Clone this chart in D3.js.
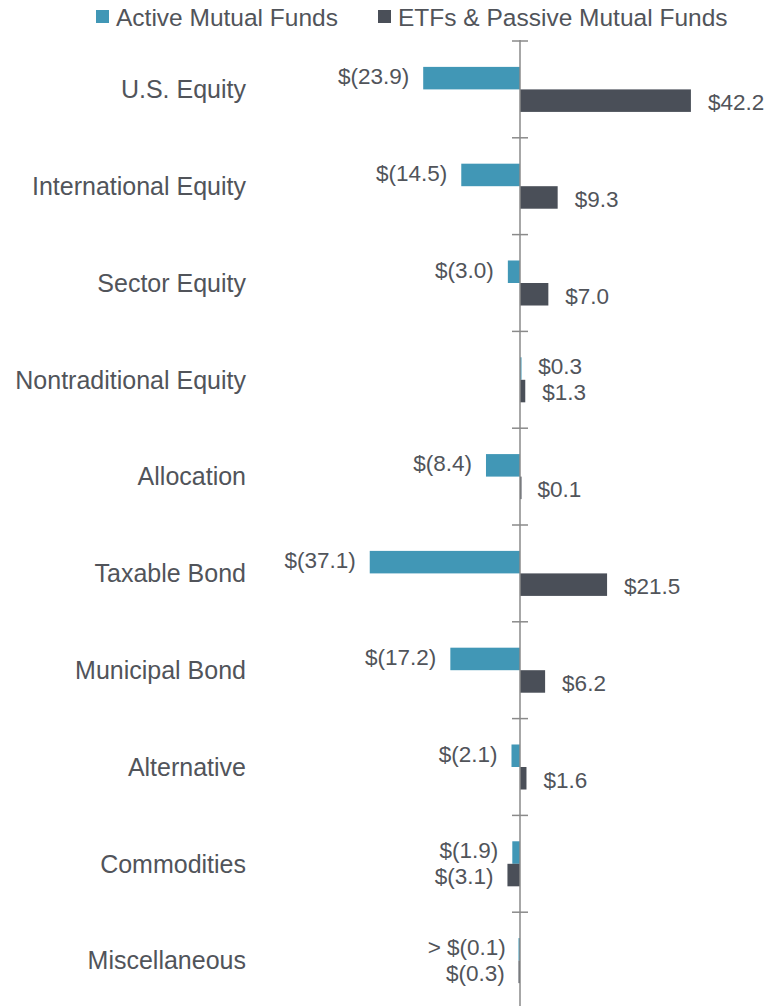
<!DOCTYPE html>
<html>
<head>
<meta charset="utf-8">
<script src="https://cdn.jsdelivr.net/npm/d3@7"></script>
<style>
  html, body { margin: 0; padding: 0; background: #ffffff; }
  svg { display: block; }
  text { font-family: "Liberation Sans", Arial, Helvetica, sans-serif; }
</style>
</head>
<body>
<svg id="chart" width="773" height="1006"></svg>
<script>
const categories = ["U.S. Equity", "International Equity", "Sector Equity", "Nontraditional Equity",
  "Allocation", "Taxable Bond", "Municipal Bond", "Alternative", "Commodities", "Miscellaneous"];
const seriesNames = ["Active Mutual Funds", "ETFs & Passive Mutual Funds"];
const activeValues = [-23.9, -14.5, -3.0, 0.3, -8.4, -37.1, -17.2, -2.1, -1.9, -0.05];
const passiveValues = [42.2, 9.3, 7.0, 1.3, 0.1, 21.5, 6.2, 1.6, -3.1, -0.3];
const activeLabels = ["$(23.9)", "$(14.5)", "$(3.0)", "$0.3", "$(8.4)", "$(37.1)", "$(17.2)", "$(2.1)", "$(1.9)", "> $(0.1)"];
const passiveLabels = ["$42.2", "$9.3", "$7.0", "$1.3", "$0.1", "$21.5", "$6.2", "$1.6", "$(3.1)", "$(0.3)"];
const colors = ["#4197b6", "#4a4f58"];

const svg = d3.select("#chart");
const axisX = 520;
const x = d3.scaleLinear().domain([-40, 45]).range([axisX - 40 * 4.05, axisX + 45 * 4.05]);
const y0 = d3.scaleBand().domain(categories).range([41, 1009]).padding(0);
const y1 = d3.scaleBand().domain(seriesNames).range([0, y0.bandwidth()]).paddingInner(0).paddingOuter(1.15);

const rows = categories.map((c, i) => ({
  cat: c,
  vals: [
    { s: seriesNames[0], v: activeValues[i], label: activeLabels[i], ci: 0 },
    { s: seriesNames[1], v: passiveValues[i], label: passiveLabels[i], ci: 1 }
  ]
}));

const textColor = "#51545a";
const minW = 1.5;
function barW(v) { return Math.max(Math.abs(x(v) - x(0)), minW); }
function barX(v) { return v < 0 ? x(0) - barW(v) : x(0); }

// bars
const g = svg.append("g");
const grp = g.selectAll("g.row").data(rows).join("g")
  .attr("class", "row")
  .attr("transform", d => `translate(0,${y0(d.cat)})`);

grp.selectAll("rect").data(d => d.vals).join("rect")
  .attr("x", d => barX(d.v))
  .attr("width", d => barW(d.v))
  .attr("y", d => y1(d.s))
  .attr("height", y1.bandwidth())
  .attr("fill", d => colors[d.ci]);

grp.selectAll("text.val").data(d => d.vals).join("text")
  .attr("class", "val")
  .attr("x", d => d.v < 0 ? x(d.v) - 14 : Math.max(x(d.v), x(0)) + 17)
  .attr("y", d => y1(d.s) + y1.bandwidth() / 2 + (d.ci === 0 ? -2 : 1.5))
  .attr("dy", "0.35em")
  .attr("text-anchor", d => d.v < 0 ? "end" : "start")
  .attr("font-size", 22.5)
  .attr("fill", textColor)
  .text(d => d.label);

// axis line and ticks
svg.append("line")
  .attr("x1", x(0)).attr("x2", x(0))
  .attr("y1", 40).attr("y2", 1006)
  .attr("stroke", "#8a8a8a").attr("stroke-width", 1.5);

svg.selectAll("line.tick").data(categories).join("line")
  .attr("class", "tick")
  .attr("x1", x(0) - 8).attr("x2", x(0) + 8)
  .attr("y1", d => y0(d)).attr("y2", d => y0(d))
  .attr("stroke", "#8a8a8a").attr("stroke-width", 1.5);

// category labels
svg.selectAll("text.cat").data(categories).join("text")
  .attr("class", "cat")
  .attr("x", 246)
  .attr("y", d => y0(d) + y0.bandwidth() / 2)
  .attr("dy", "0.35em")
  .attr("text-anchor", "end")
  .attr("font-size", 25)
  .attr("fill", textColor)
  .text(d => d);

// legend
const legendX = [96, 378];
const leg = svg.selectAll("g.leg").data(seriesNames).join("g")
  .attr("class", "leg")
  .attr("transform", (d, i) => `translate(${legendX[i]},0)`);
leg.append("rect").attr("x", 0).attr("y", 10).attr("width", 13).attr("height", 13)
  .attr("fill", (d, i) => colors[i]);
leg.append("text").attr("x", 20).attr("y", 17).attr("dy", "0.35em")
  .attr("font-size", 24.5).attr("fill", textColor).text(d => d);
</script>
</body>
</html>
